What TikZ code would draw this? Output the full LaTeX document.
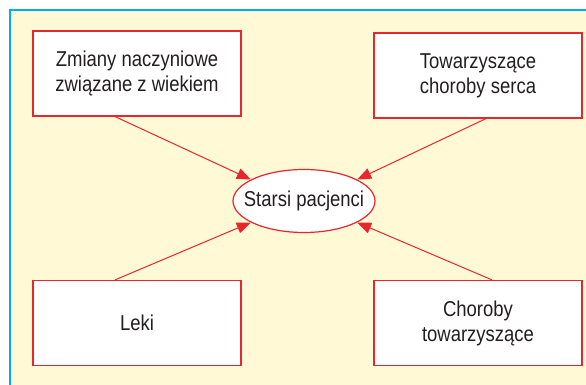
\documentclass[tikz,border=0pt]{standalone}
\usepackage{fontspec}
\setmainfont{Liberation Sans}[FakeStretch=0.86]
\usetikzlibrary{shapes.geometric,arrows.meta}
\definecolor{ramka}{RGB}{0,174,239}
\definecolor{tlo}{RGB}{255,249,214}
\definecolor{czerw}{RGB}{232,38,46}
\definecolor{tekst}{RGB}{35,31,32}

\begin{document}
\begin{tikzpicture}[x=1pt,y=1pt,
  pole/.style={draw=czerw,line width=1.2pt,fill=white,minimum width=208pt,
    minimum height=85pt,inner sep=0pt,align=center,text=tekst,
    font=\fontsize{21.5}{25}\selectfont},
  srodek/.style={ellipse,draw=czerw,line width=1.2pt,fill=white,minimum width=142pt,
    minimum height=63pt,inner xsep=-14pt,inner ysep=0pt,text=tekst,
    font=\fontsize{21.5}{25}\selectfont},
  strz/.style={draw=czerw,line width=1pt,-{Triangle[length=14pt,width=11pt]}}]
  \useasboundingbox (0,0) rectangle (586,385);
  \fill[tlo] (10,0) rectangle (586,375);
  \draw[ramka,line width=2pt] (10,0) -- (10,375) -- (586,375);

  \node[srodek] (pac) at (304,184) {Starsi pacjenci};
  \node[pole] (zm) at (137,311.5) {Zmiany naczyniowe\\związane z wiekiem};
  \node[pole] (tow) at (478,309.5) {Towarzyszące\\choroby serca};
  \node[pole] (leki) at (137,62) {Leki};
  \node[pole] (chor) at (478,62) {Choroby\\towarzyszące};

  \coordinate (a1) at ([xshift=-22pt]zm.south);
  \coordinate (a2) at ([xshift=8pt]tow.south);
  \coordinate (a3) at ([xshift=-22pt]leki.north);
  \coordinate (a4) at ([xshift=14pt]chor.north);
  \draw[strz] (a1) -- (pac.158);
  \draw[strz] (a2) -- (pac.22);
  \draw[strz] (a3) -- (pac.202);
  \draw[strz] (a4) -- (pac.-22);
\end{tikzpicture}
\end{document}
